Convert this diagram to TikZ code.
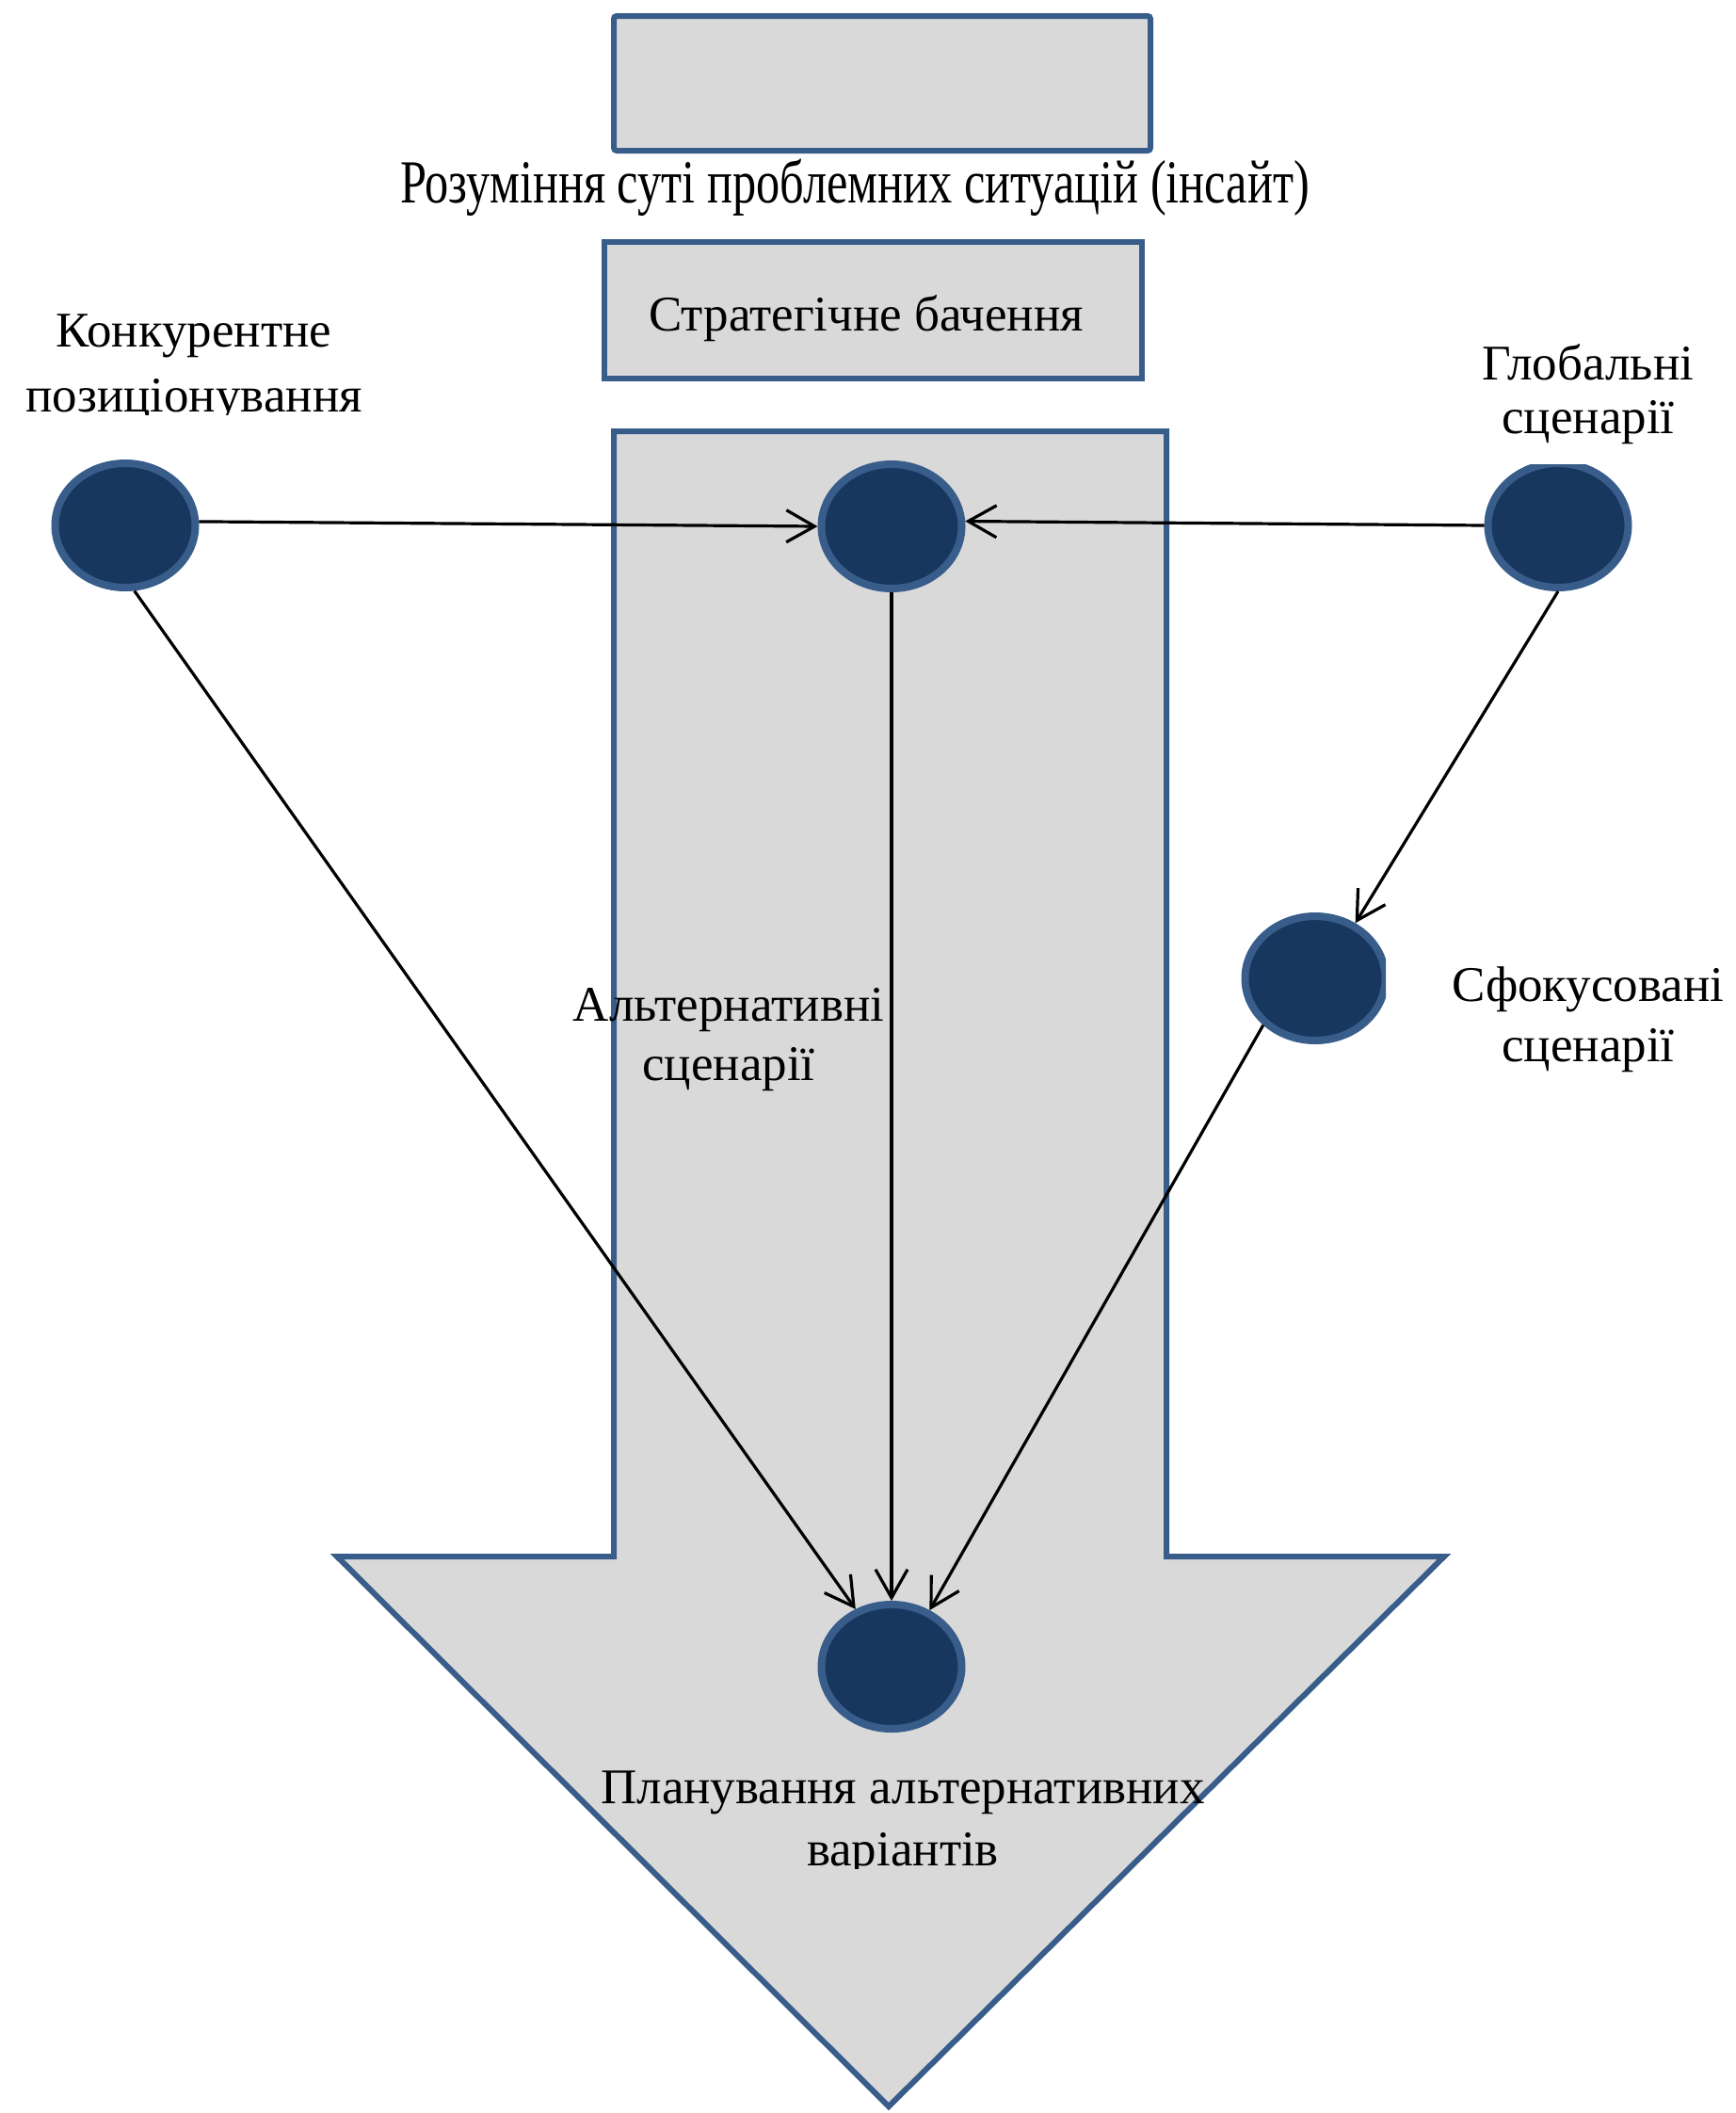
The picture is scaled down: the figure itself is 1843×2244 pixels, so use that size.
\documentclass[tikz,border=0pt]{standalone}
\usepackage{fontspec}
\setmainfont{Liberation Serif}
\usetikzlibrary{shapes.geometric,arrows.meta}
\definecolor{navy}{HTML}{17375E}
\definecolor{bordblue}{HTML}{385D8A}
\definecolor{boxgray}{HTML}{D9D9D9}
\begin{document}
\begin{tikzpicture}[x=0.5pt,y=-0.5pt,
  dot/.style={ellipse, fill=navy, draw=bordblue, line width=4pt, minimum width=74.5pt, minimum height=66pt, inner sep=0pt},
  boxstyle/.style={fill=boxgray, draw=bordblue, line width=3pt},
  lbl/.style={font=\fontsize{26.5}{33}\selectfont, align=center, anchor=base, inner sep=0pt},
  link/.style={draw=black, line width=1.6pt, -{Straight Barb[length=15pt,width=17pt]}}]
\useasboundingbox (0,0) rectangle (1843,2244);
% boxes
\draw[boxstyle, rounded corners=1.5pt] (652,17) rectangle (1222,160);
\node[inner sep=0pt, anchor=base] (insight) at (908,215)
  {\resizebox{483pt}{\height}{\fontsize{32.5}{36}\selectfont Розуміння суті проблемних ситуацій (інсайт)}};
\draw[boxstyle] (642,257) rectangle (1213,402);
\node[lbl] (vision) at (920,351) {Стратегічне бачення};
% big arrow
\draw[boxstyle] (652,458) -- (1239,458) -- (1239,1653) -- (1534,1653) -- (944,2237) -- (358,1653) -- (652,1653) -- cycle;
% dots
\node[dot] (lc) at (133,558) {};
\node[dot] (cc) at (947,559) {};
\begin{scope}
  \clip (1500,493) rectangle (1843,700);
  \node[dot] (rc) at (1655,558) {};
\end{scope}
\begin{scope}
  \clip (1250,900) rectangle (1472,1200);
  \node[dot] (fc) at (1397,1039) {};
\end{scope}
\node[dot] (bc) at (947,1770) {};
% labels
\begin{scope}
  \clip (0,280) rectangle (500,440);
  \node[lbl, font=\fontsize{26.5}{34.5}\selectfont] (l1) at (206,437) {Конкурентне\\позиціонування};
\end{scope}
\node[lbl, font=\fontsize{26.5}{28.5}\selectfont] (l2) at (1687,460) {Глобальні\\сценарії};
\node[lbl, font=\fontsize{26.5}{32}\selectfont] (l3) at (1687,1127) {Сфокусовані\\сценарії};
\node[lbl, font=\fontsize{26.5}{31.5}\selectfont] (l4) at (774,1147) {Альтернативні\\сценарії};
\begin{scope}
  \clip (500,1840) rectangle (1400,1984);
  \node[lbl, font=\fontsize{26.5}{33}\selectfont] (l5) at (959,1981) {Планування альтернативних\\варіантів};
\end{scope}
% connectors
\draw[link] (lc.3) -- (cc.180);
\draw[link] (rc.180) -- (cc.4);
\draw[link] (cc.south) -- (bc.north);
\draw[link] (lc.-82) -- (bc.122);
\draw[link] (rc.-90) -- (fc.54);
\draw[link] (fc.-138) -- (bc.56);
\end{tikzpicture}
\end{document}
